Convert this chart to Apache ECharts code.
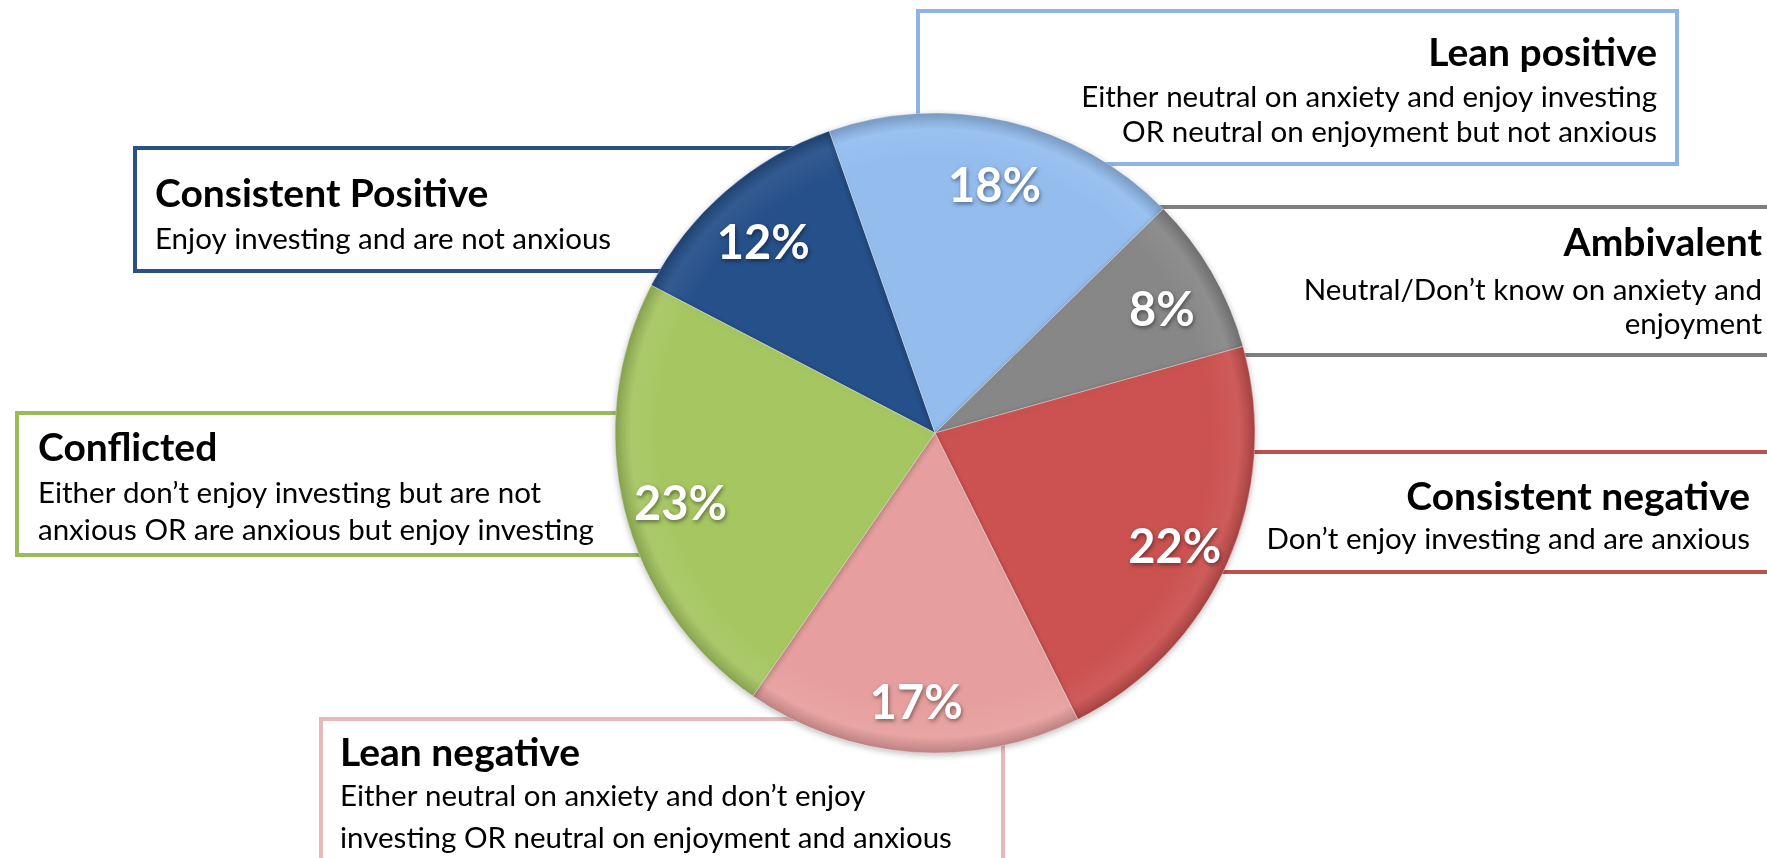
<!DOCTYPE html>
<html>
<head>
<meta charset="utf-8">
<script src="https://cdn.jsdelivr.net/npm/echarts@6/dist/echarts.min.js"></script>
<style>
  html, body { margin: 0; padding: 0; background: #fff; }
  #main { width: 1767px; height: 858px; }
</style>
</head>
<body>
<div id="main"></div>
<script>
// data
var categories = ['Consistent Positive', 'Lean positive', 'Ambivalent', 'Consistent negative', 'Lean negative', 'Conflicted'];
var shares = [12, 18, 8, 22, 17, 23];
var descriptions = [
  ['Enjoy investing and are not anxious'],
  ['Either neutral on anxiety and enjoy investing', 'OR neutral on enjoyment but not anxious'],
  ['Neutral/Don\u2019t know on anxiety and', 'enjoyment'],
  ['Don\u2019t enjoy investing and are anxious'],
  ['Either neutral on anxiety and don\u2019t enjoy', 'investing OR neutral on enjoyment and anxious'],
  ['Either don\u2019t enjoy investing but are not', 'anxious OR are anxious but enjoy investing']
];

// styles
var sliceColors = ['#26508a', '#94bdee', '#878787', '#cb5250', '#e69f9e', '#a6c662'];
var boxColors = ['#2a5185', '#8db4e2', '#7f7f7f', '#c0504d', '#e6b9b8', '#9bbb59'];
var CX = 935, CY = 433, R = 320;
var FONT = 'Lato, "Open Sans", sans-serif';

// box layout: rect + text anchor
var boxes = [
  { x: 135, y: 148, w: 765, h: 123, tx: 155, align: 'left', ty: [194, 239] },
  { x: 918, y: 11, w: 759, h: 153, tx: 1657, align: 'right', ty: [53, 97, 132] },
  { x: 1000, y: 207, w: 900, h: 148, tx: 1762, align: 'right', ty: [243, 290, 324] },
  { x: 1000, y: 452, w: 900, h: 120, tx: 1750, align: 'right', ty: [497, 539] },
  { x: 321, y: 719, w: 682, h: 200, tx: 340, align: 'left', ty: [753, 796, 838] },
  { x: 17, y: 413, w: 700, h: 142, tx: 38, align: 'left', ty: [448, 493, 530] }
];

function shade(hex, f) {
  var n = parseInt(hex.slice(1), 16);
  var r = (n >> 16) & 255, g = (n >> 8) & 255, b = n & 255;
  function c(v) { return Math.max(0, Math.min(255, Math.round(f > 0 ? v + (255 - v) * f : v * (1 + f)))); }
  return 'rgb(' + c(r) + ',' + c(g) + ',' + c(b) + ')';
}

var pieData = categories.map(function (name, i) {
  return {
    name: name,
    value: shares[i],
    itemStyle: {
      color: {
        type: 'radial', x: CX, y: CY, r: R, global: true,
        colorStops: [
          { offset: 0, color: sliceColors[i] },
          { offset: 0.86, color: sliceColors[i] },
          { offset: 0.95, color: shade(sliceColors[i], 0.06) },
          { offset: 1, color: shade(sliceColors[i], -0.18) }
        ]
      }
    }
  };
});

var graphics = [];
boxes.forEach(function (b, i) {
  graphics.push({
    type: 'rect', z: 1,
    shape: { x: b.x, y: b.y, width: b.w, height: b.h },
    style: { fill: '#fff', stroke: boxColors[i], lineWidth: 4 }
  });
  var lines = [categories[i]].concat(descriptions[i]);
  lines.forEach(function (t, k) {
    graphics.push({
      type: 'text', z: 1,
      style: {
        text: t, x: b.tx, y: b.ty[k],
        fill: '#000',
        font: (k === 0 ? 'bold 39px ' : '29.5px ') + FONT,
        align: b.align, verticalAlign: 'middle',
        textAlign: b.align, textVerticalAlign: 'middle'
      }
    });
  });
});

var myChart = echarts.init(document.getElementById('main'));

var option = {
  backgroundColor: '#fff',
  animation: false,
  graphic: graphics,
  series: [
    {
      type: 'pie',
      z: 10,
      center: [CX, CY],
      radius: [0, R],
      startAngle: 152.5,
      clockwise: true,
      silent: true,
      label: { show: false },
      labelLine: { show: false },
      itemStyle: {
        borderColor: 'rgba(255,255,255,0.35)',
        borderWidth: 1,
        shadowBlur: 6,
        shadowColor: 'rgba(0,0,0,0.25)',
        shadowOffsetY: 2
      },
      data: pieData
    },
    {
      // transparent ring that only carries the percentage labels
      type: 'pie',
      z: 11,
      center: [CX, CY],
      radius: [R * 0.62, R],
      startAngle: 152.5,
      silent: true,
      itemStyle: { color: 'rgba(0,0,0,0)' },
      label: {
        show: true,
        position: 'inside',
        formatter: '{c}%',
        color: '#fff',
        fontFamily: FONT,
        fontWeight: 'bold',
        fontSize: 47,
        textShadowColor: 'rgba(0,0,0,0.45)',
        textShadowBlur: 4,
        textShadowOffsetX: 1,
        textShadowOffsetY: 2
      },
      labelLayout: { dy: 9 },
      labelLine: { show: false },
      data: categories.map(function (name, i) { return { name: name, value: shares[i] }; })
    }
  ]
};

myChart.setOption(option);
</script>
</body>
</html>
